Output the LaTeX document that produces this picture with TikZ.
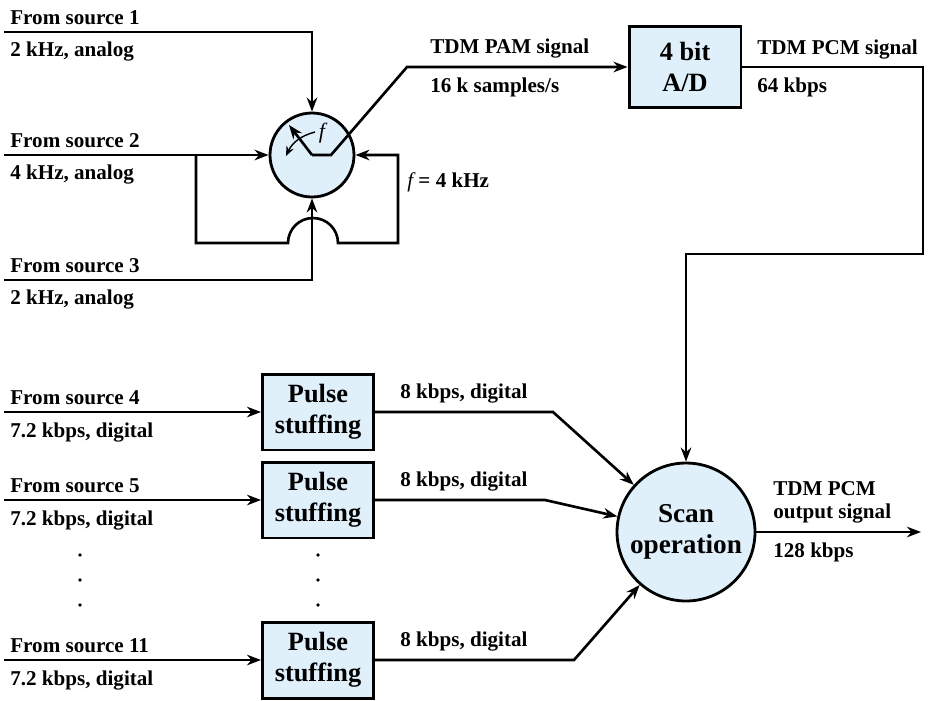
\documentclass[tikz,border=0pt]{standalone}
\usepackage{fontspec}
\setmainfont{Liberation Serif}
\usetikzlibrary{arrows.meta,positioning,calc}
\definecolor{boxblue}{RGB}{224,240,250}
\tikzset{
>={Stealth[length=8pt,width=6pt]},
block/.style={rectangle, draw=black, line width=1.7pt, fill=boxblue, align=center, inner sep=0pt, font=\fontsize{15}{17.5}\selectfont\bfseries},
mux/.style={circle, draw=black, line width=1.6pt, fill=boxblue, inner sep=0pt, minimum size=1.68cm},
scanner/.style={circle, draw=black, line width=1.6pt, fill=boxblue, inner sep=0pt, minimum size=2.76cm, align=center, font=\fontsize{15.5}{17.5}\selectfont\bfseries},
line/.style={draw, line width=1.5pt, ->},
swing/.style={draw, line width=0.8pt, -{Stealth[length=5.5pt,width=4.5pt]}},
lbl/.style={inner sep=0pt, anchor=base west, align=left, font=\fontsize{12}{13}\selectfont\bfseries},
sym/.style={inner sep=0pt, font=\fontsize{12.5}{13}\selectfont\itshape},
}

\begin{document}
\begin{tikzpicture}[x=0.02cm, y=-0.02cm]
\useasboundingbox (0,0) rectangle (928,700);

% analog sources and commutator
\node[mux] (comm) at (312,155) {};
\node[block, minimum width=2.24cm, minimum height=1.62cm] (ad) at (685,67) {4 bit\\A/D};
\node[scanner] (scan) at (686,532) {Scan\\operation};

\coordinate (src1) at (4,32);
\coordinate (src2) at (4,155);
\coordinate (src3) at (4,280);
\coordinate (tap) at (196,155);
\coordinate (hopL) at (288,243);
\coordinate (loopR) at (398,243);
\coordinate (sw) at (331,155);
\coordinate (armtip) at (289,125);
\coordinate (swingA) at (315,132);
\coordinate (swingB) at (286,156);
\coordinate (pambend) at (407,67);
\coordinate (pcmcorner) at (923,67);
\coordinate (pcmturn) at (923,254);
\coordinate (outend) at (921,532);

\node[lbl] (s1name) at (10,24) {From source 1};
\node[lbl] (s1rate) at (10,56) {2 kHz, analog};
\node[lbl] (s2name) at (10,147) {From source 2};
\node[lbl] (s2rate) at (10,179) {4 kHz, analog};
\node[lbl] (s3name) at (10,272) {From source 3};
\node[lbl] (s3rate) at (10,304) {2 kHz, analog};

\draw[line] (src1) -| (comm);
\draw[line] (src2) -- (comm);
\draw[line] (src3) -| (comm);
\draw[line] (tap) |- (hopL) arc[start angle=180, end angle=0, radius=0.5cm] -- (loopR) |- (comm);
\node[lbl] (fval) at (407,187) {{\mdseries\itshape f} = 4 kHz};

% switch arm
\draw[line] (comm.center) -- (armtip);
\draw[swing] (swingA) to[bend right=25] (swingB);
\node[sym] (fsym) at (322,133) {f};
\draw[line] (comm.center) -- (sw) -- (pambend) -- (ad);
\node[lbl] (pamname) at (430,53) {TDM PAM signal};
\node[lbl] (pamrate) at (430,92) {16 k samples/s};

\draw[line] (ad) -- (pcmcorner) -- (pcmturn) -| (scan);
\node[lbl] (pcmname) at (757,54) {TDM PCM signal};
\node[lbl] (pcmrate) at (757,92) {64 kbps};

% digital sources
\node[block, minimum width=2.22cm, minimum height=1.52cm] (ps1) at (318,412) {Pulse\\stuffing};
\node[block, minimum width=2.22cm, minimum height=1.52cm] (ps2) at (318,500) {Pulse\\stuffing};
\node[block, minimum width=2.22cm, minimum height=1.52cm] (ps3) at (318,660) {Pulse\\stuffing};

\coordinate (src4) at (4,412);
\coordinate (src5) at (4,500);
\coordinate (src11) at (4,660);
\coordinate (b1) at (553,412);
\coordinate (b2) at (545,500);
\coordinate (b3) at (574,660);

\node[lbl] (s4name) at (10,404) {From source 4};
\node[lbl] (s4rate) at (10,437) {7.2 kbps, digital};
\node[lbl] (s5name) at (10,492) {From source 5};
\node[lbl] (s5rate) at (10,525) {7.2 kbps, digital};
\node[lbl] (s11name) at (10,652) {From source 11};
\node[lbl] (s11rate) at (10,685) {7.2 kbps, digital};

\draw[line] (src4) -- (ps1);
\draw[line] (src5) -- (ps2);
\draw[line] (src11) -- (ps3);

\draw[line] (ps1) -- (b1) -- (scan);
\draw[line] (ps2) -- (b2) -- (scan);
\draw[line] (ps3) -- (b3) -- (scan);
\node[lbl] (r1) at (400,398) {8 kbps, digital};
\node[lbl] (r2) at (400,486) {8 kbps, digital};
\node[lbl] (r3) at (400,646) {8 kbps, digital};

\foreach \y in {555,580,605} {
  \fill (80,\y) circle[radius=1.1pt];
  \fill (318,\y) circle[radius=1.1pt];
}

% output
\draw[line] (scan) -- (outend);
\node[lbl, anchor=north west] (outname) at (773,481) {TDM PCM\\output signal};
\node[lbl] (outrate) at (773,557) {128 kbps};

\end{tikzpicture}
\end{document}
